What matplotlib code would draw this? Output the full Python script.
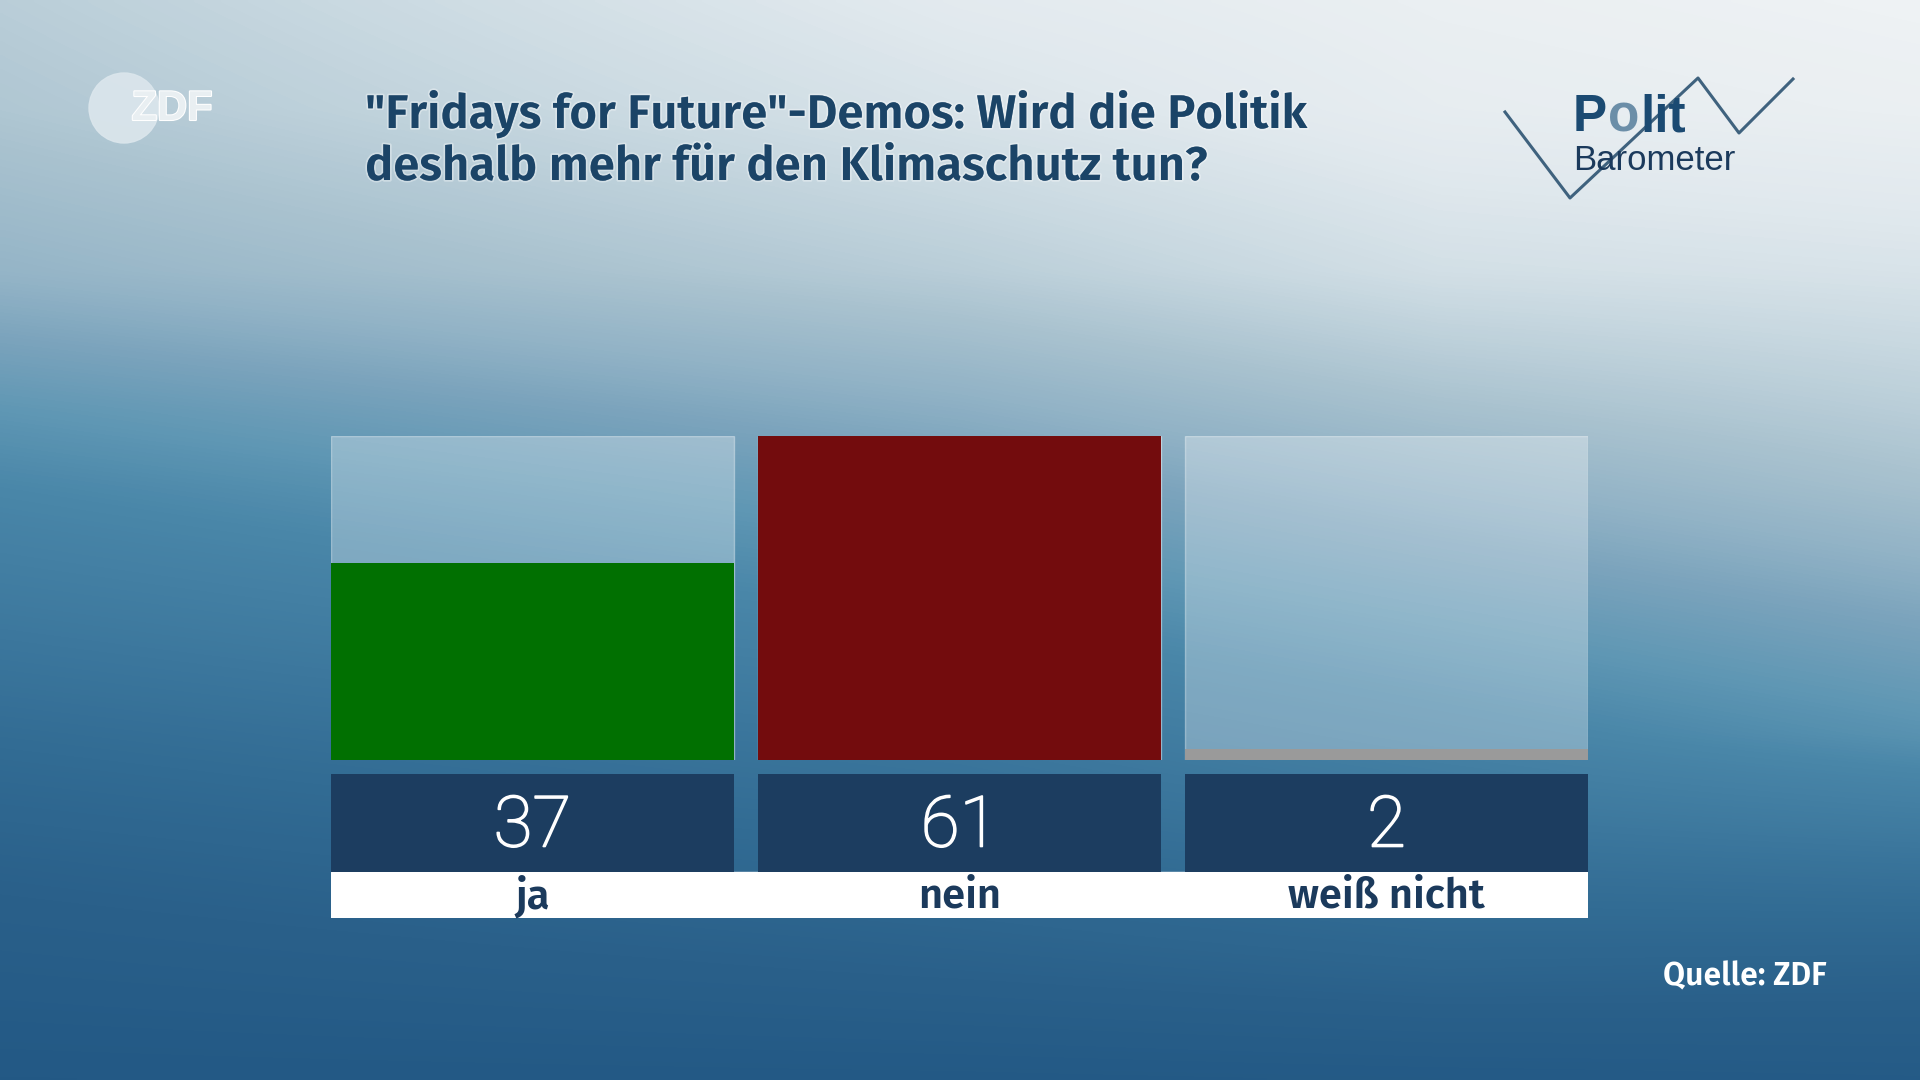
import numpy as np
import matplotlib
matplotlib.use('Agg')
import matplotlib.pyplot as plt
from matplotlib.colors import LinearSegmentedColormap
from matplotlib.patches import Circle
import matplotlib.patheffects as pe
from matplotlib import font_manager as fm

categories = ['ja', 'nein', 'weiß nicht']
values = [37, 61, 2]
bar_colors = ['#017001', '#730c0d', '#9a9a9a']
title_lines = ['"Fridays for Future"-Demos: Wird die Politik',
               'deshalb mehr für den Klimaschutz tun?']
source = 'Quelle: ZDF'

installed = {f.name for f in fm.fontManager.ttflist}
def pick(*names):
    for n in names:
        if n in installed:
            return n
    return 'DejaVu Sans'

SANS = pick('Fira Sans', 'Fira Sans Semi Condensed', 'Open Sans', 'DejaVu Sans')
THIN = pick('Roboto', 'Lato', 'Liberation Sans')
ARIAL = pick('Liberation Sans', 'DejaVu Sans')

W, H = 1920, 1080
fig = plt.figure(figsize=(19.2, 10.8), dpi=100)

# background gradient (style only)
bg = fig.add_axes([0, 0, 1, 1])
bg.set_axis_off()
vg = [0, 0.1, 0.25, 0.38, 0.45, 0.57, 0.68, 0.8, 0.9, 1.0]
ug = [0, 0.5, 0.75, 1.0]
cols = [[0.80, 0.77, 0.68, 0.52, 0.45, 0.35, 0.26, 0.17, 0.11, 0.05],
        [0.94, 0.90, 0.80, 0.65, 0.57, 0.45, 0.34, 0.24, 0.16, 0.06],
        [0.98, 0.96, 0.88, 0.74, 0.66, 0.53, 0.42, 0.29, 0.19, 0.07],
        [1.00, 0.98, 0.90, 0.80, 0.74, 0.61, 0.50, 0.31, 0.18, 0.08]]
nu, nv = 480, 270
uu = np.linspace(0, 1, nu)
vv = np.linspace(0, 1, nv)
colv = np.array([np.interp(vv, vg, c) for c in cols])
tgrid = np.array([np.interp(uu, ug, colv[:, j]) for j in range(nv)])
cmap = LinearSegmentedColormap.from_list(
    'bg', [(0, '#1f5480'), (0.05, '#235985'), (0.15, '#2a608a'), (0.25, '#326c94'),
           (0.33, '#3c779d'), (0.45, '#4a87a9'), (0.52, '#5f97b4'),
           (0.6, '#7aa3bc'), (0.66, '#8fb1c5'), (0.75, '#a9c2cf'),
           (0.85, '#c9d9e1'), (0.93, '#e1e9ee'), (1, '#eef2f4')])
bg.imshow(tgrid, cmap=cmap, vmin=0, vmax=1, aspect='auto',
          extent=[0, W, H, 0], interpolation='bilinear')
bg.set_xlim(0, W)
bg.set_ylim(H, 0)
r = fig.canvas.get_renderer()

# ZDF logo
bg.add_patch(Circle((124, 108), 35, color='#dbe6ec', alpha=0.92, zorder=2))
bg.text(172, 109, 'ZDF', fontsize=30, fontweight='bold', color='#e9eff2',
        ha='center', va='center', family=ARIAL, zorder=3,
        path_effects=[pe.withStroke(linewidth=1.5, foreground='white')])

# Politbarometer logo
zx = [1505, 1570, 1698, 1739, 1793]
zy = [112, 198, 78, 133, 79]
bg.plot(zx, zy, color='#3f627e', lw=2.2, zorder=2)
xc = 1573
for piece, colr in [('P', '#1b4a72'), ('o', '#6b8ea8'), ('lit', '#1b4a72')]:
    tt = bg.text(xc, 131, piece, fontsize=37, fontweight='bold', color=colr,
                 family=ARIAL, va='baseline', zorder=3)
    xc += tt.get_window_extent(r).width + 1
bg.text(1573, 170, 'Barometer', fontsize=25, color='#1b3a5c',
        family=ARIAL, va='baseline', zorder=3)

# title
for i, line in enumerate(title_lines):
    bg.text(365, 128 + 52 * i, line, fontsize=34, fontweight='semibold',
            color='#1b4467', family=SANS, va='baseline',
            path_effects=[pe.withStroke(linewidth=2.5, foreground=(1, 1, 1, 0.35))])

# source
bg.text(1827, 985, source, fontsize=23, fontweight='semibold', color='white',
        family=SANS, ha='right', va='baseline')

# bars
x = np.arange(len(categories))
wbar = 403 / 427
ax = fig.add_axes([331 / W, (H - 760) / H, (1588 - 331) / W, 324 / H])
ax.set_axis_off()
vmax = max(values)
ax.bar(x, [vmax] * len(x), width=wbar, color=(1, 1, 1, 0.3),
       edgecolor=(1, 1, 1, 0.35), linewidth=1)
ax.bar(x, values, width=wbar, color=bar_colors)
ax.set_xlim(-wbar / 2, len(x) - 1 + wbar / 2)
ax.set_ylim(0, vmax)

# value boxes + labels
ax2 = fig.add_axes([331 / W, (H - 918) / H, (1588 - 331) / W, 144 / H])
ax2.set_axis_off()
ax2.set_xlim(ax.get_xlim())
ax2.set_ylim(0, 144)
ax2.axhspan(0, 46, color='white', zorder=1)
ax2.bar(x, 98, bottom=46, width=wbar, color='#1c3d60', zorder=2)
for xi, val, cat in zip(x, values, categories):
    ax2.text(xi, 91, str(val), fontsize=51, color='white', family=THIN,
             fontweight='light', ha='center', va='center', zorder=3,
             path_effects=[pe.withStroke(linewidth=1.2, foreground='white')])
    ax2.text(xi, 10, cat, fontsize=30, fontweight='semibold', color='#1b3a5c',
             family=SANS, ha='center', va='baseline', zorder=3)

fig.savefig('out.png', dpi=100)
